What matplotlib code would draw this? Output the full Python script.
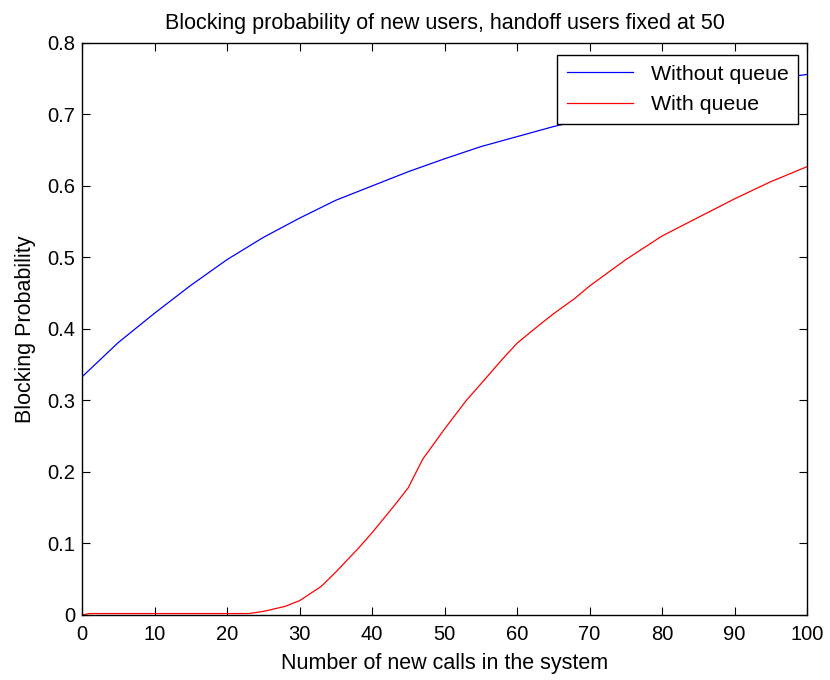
import matplotlib
matplotlib.use("Agg")
import matplotlib.pyplot as plt

plt.rcParams['font.family'] = ['Liberation Sans', 'DejaVu Sans']

# number of new calls
x_blue = [0, 5, 10, 15, 20, 25, 30, 35, 40, 45, 50, 55, 60, 65, 70, 75, 80, 85, 90, 95, 100]
without_queue = [0.333, 0.381, 0.422, 0.461, 0.497, 0.528, 0.555, 0.580, 0.600, 0.620, 0.638,
                 0.655, 0.669, 0.683, 0.695, 0.708, 0.720, 0.731, 0.741, 0.749, 0.756]

x_red = [0, 1, 5, 10, 15, 20, 23, 25, 28, 30, 33, 35, 38, 40, 43, 45, 47, 50, 53, 55,
         58, 60, 63, 65, 68, 70, 75, 80, 85, 90, 95, 100]
with_queue = [0.0, 0.002, 0.002, 0.002, 0.002, 0.002, 0.002, 0.005, 0.012, 0.020, 0.040, 0.060,
              0.092, 0.115, 0.152, 0.178, 0.218, 0.260, 0.300, 0.323, 0.358, 0.380, 0.405,
              0.421, 0.443, 0.460, 0.497, 0.530, 0.556, 0.582, 0.606, 0.627]

fig = plt.figure(figsize=(8.3, 6.8), dpi=100)
ax = fig.add_axes([0.0988, 0.0956, 0.8735, 0.8412])

ax.plot(x_blue, without_queue, color='blue', linewidth=0.9, label='Without queue')
ax.plot(x_red, with_queue, color='red', linewidth=0.9, label='With queue')

ax.set_xlim(0, 100)
ax.set_ylim(0, 0.8)
ax.set_xticks(range(0, 101, 10))
ax.set_yticks([i / 10 for i in range(9)])
ax.set_yticklabels(['0', '0.1', '0.2', '0.3', '0.4', '0.5', '0.6', '0.7', '0.8'])
ax.tick_params(direction='in', top=True, right=True, labelsize=14.5, length=6, width=0.8)
ax.tick_params(axis='x', pad=7)
ax.tick_params(axis='y', pad=5)
for s in ax.spines.values():
    s.set_linewidth(1.0)

ax.set_title('Blocking probability of new users, handoff users fixed at 50', fontsize=15.5, pad=10)
ax.set_xlabel('Number of new calls in the system', fontsize=15.5, labelpad=7)
ax.set_ylabel('Blocking Probability', fontsize=15.5, labelpad=8)

leg = ax.legend(loc='upper right', bbox_to_anchor=(0.9876, 0.979), fontsize=15.4,
                fancybox=False, framealpha=1, edgecolor='black', borderaxespad=0,
                handlelength=3.1, labelspacing=0.55, borderpad=0.45)
leg.get_frame().set_linewidth(1.0)

fig.savefig('out.png', dpi=100)
plt.close(fig)
